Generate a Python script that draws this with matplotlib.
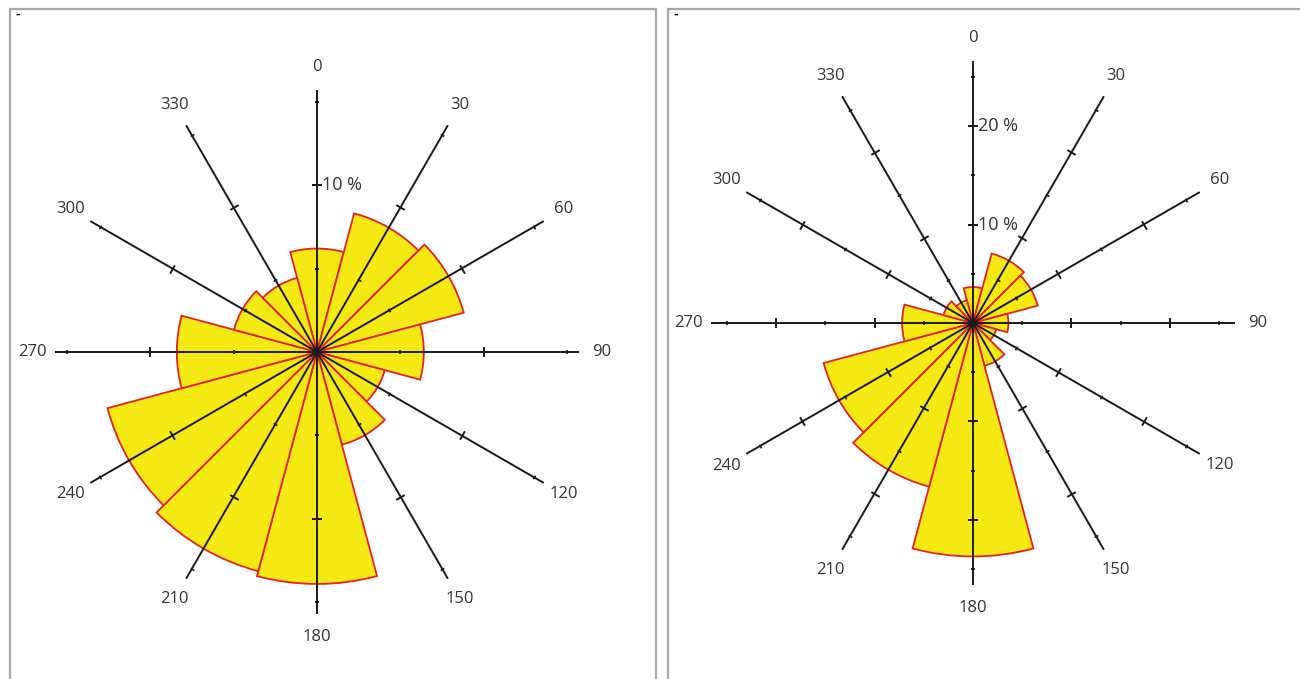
import numpy as np
import matplotlib
matplotlib.use("Agg")
import matplotlib.pyplot as plt
from matplotlib.patches import Rectangle

# ---- data ----
directions = [0, 30, 60, 90, 120, 150, 180, 210, 240, 270, 300, 330]
left_values = [6.2, 8.6, 9.1, 6.4, 4.2, 5.75, 13.9, 13.6, 13.0, 8.4, 5.15, 4.6]
right_values = [3.65, 7.3, 6.8, 3.6, 2.45, 4.5, 23.7, 17.2, 15.7, 7.2, 3.1, 2.4]
left_rmax = 15.7
right_rmax = 26.6
left_pct_labels = [10]
right_pct_labels = [10, 20]
axis_labels = [str(d) for d in directions]

plt.rcParams['font.family'] = ['Open Sans', 'DejaVu Sans']

W, H = 1300, 679
fig = plt.figure(figsize=(W / 100, H / 100), dpi=100)

YELLOW = '#f5e914'
RED = '#e8202a'
LINE = '#1a1a1a'
TEXT = '#333333'

# panel frames
for x0, x1 in [(10, 656), (668, 1310)]:
    fig.patches.append(Rectangle((x0 / W, -0.1), (x1 - x0) / W, (H - 9) / H + 0.1,
                                 transform=fig.transFigure, fill=False,
                                 edgecolor='#a8a8a8', linewidth=1.6))
fig.text(18 / W, 1 - 15 / H, '-', fontsize=8, fontweight='bold', color='black',
         ha='center', va='center', family='DejaVu Sans')
fig.text(676 / W, 1 - 15 / H, '-', fontsize=8, fontweight='bold', color='black',
         ha='center', va='center', family='DejaVu Sans')


def rose(cx, cy, values, rmax, pct_labels):
    R = 262
    ax = fig.add_axes([(cx - R) / W, (H - cy - R) / H, 2 * R / W, 2 * R / H],
                      projection='polar')
    ax.set_theta_zero_location('N')
    ax.set_theta_direction(-1)
    ax.set_ylim(0, rmax)
    ax.grid(False)
    ax.set_xticks([])
    ax.set_yticks([])
    ax.spines['polar'].set_visible(False)
    ax.patch.set_visible(False)

    th = np.deg2rad(directions)
    ax.bar(th, values, width=np.deg2rad(30), bottom=0, color=YELLOW,
           edgecolor=RED, linewidth=1.3, zorder=1, align='center')

    ticks = np.arange(5, rmax, 5)
    for d in directions:
        t = np.deg2rad(d)
        ax.plot([t, t], [0, rmax], color=LINE, linewidth=1.4, zorder=3,
                solid_capstyle='butt')
        major = [v for v in ticks if v % 10 == 0]
        minor = [v for v in ticks if v % 10 != 0]
        rot = 90 - d
        ax.plot([t] * len(major), major, linestyle='none', marker=(2, 0, rot),
                markersize=7, markeredgewidth=1.4, markeredgecolor=LINE, zorder=4)
        ax.plot([t] * len(minor), minor, linestyle='none', marker=(2, 0, rot),
                markersize=3, markeredgewidth=1.2, markeredgecolor=LINE, zorder=4)
        off = 23
        ax.annotate(str(d), xy=(t, rmax),
                    xytext=(off * np.sin(t), off * np.cos(t)),
                    textcoords='offset pixels', ha='center', va='center',
                    fontsize=12, color=TEXT, annotation_clip=False)
    for p in pct_labels:
        ax.annotate(f'{p} %', xy=(0, p), xytext=(5, 0), textcoords='offset pixels',
                    ha='left', va='center', fontsize=13, color=TEXT, zorder=5)
    return ax


rose(317, 352, left_values, left_rmax, left_pct_labels)
rose(973, 323, right_values, right_rmax, right_pct_labels)

fig.savefig('out.png', dpi=100)
